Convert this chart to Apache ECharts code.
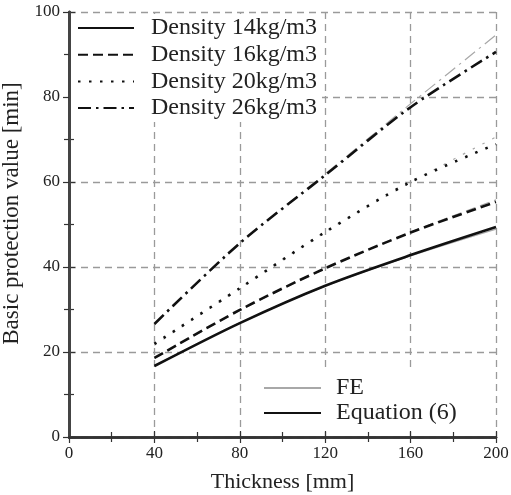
<!DOCTYPE html>
<html lang="en">
<head>
    <meta charset="utf-8">
    <title>Basic protection value vs thickness</title>
    <script src="https://cdn.jsdelivr.net/npm/echarts@6/dist/echarts.min.js"></script>
    <style>
        body { margin: 0; background: #fff; }
        #divChart { width: 511px; height: 495px; }
    </style>
</head>
<body>
<div id="divChart"></div>

<script>
    // thickness [mm]
    var thickness = [40, 80, 120, 160, 200];

    // Equation (6)
    var eq14 = [16.7, 26.8, 35.6, 42.8, 49.4];
    var eq16 = [18.6, 29.9, 39.7, 48.1, 55.3];
    var eq20 = [21.9, 35.0, 48.2, 60.0, 68.9];
    var eq26 = [26.6, 45.6, 61.6, 77.6, 90.6];

    // FE results
    var fe14 = [16.8, 26.9, 35.5, 42.6, 48.9];
    var fe16 = [18.5, 29.8, 39.6, 48.2, 55.8];
    var fe20 = [21.6, 35.0, 48.3, 59.9, 70.6];
    var fe26 = [26.5, 45.5, 61.9, 78.4, 94.6];

    var xTicks = [0, 40, 80, 120, 160, 200];
    var yTicks = [0, 20, 40, 60, 80, 100];

    var densityNames = ['Density 14kg/m3', 'Density 16kg/m3', 'Density 20kg/m3', 'Density 26kg/m3'];

    function pairs(values) {
        var out = [];
        for (var i = 0; i < thickness.length; i++) {
            out.push([thickness[i], values[i]]);
        }
        return out;
    }

    var dashes = ['solid', [10, 5], [2.5, 8.5], [13, 5, 2.5, 5]];
    var eqData = [eq14, eq16, eq20, eq26];
    var feData = [fe14, fe16, fe20, fe26];

    var serif = 'Liberation Serif';
    var series = [];

    // FE lines first so the equation lines sit on top
    for (var i = 0; i < feData.length; i++) {
        series.push({
            name: 'FE',
            type: 'line',
            data: pairs(feData[i]),
            symbol: 'none',
            smooth: 0.3,
            z: 2,
            lineStyle: { color: '#a8a8a8', width: 1.2, type: dashes[i] }
        });
    }
    for (var i = 0; i < eqData.length; i++) {
        series.push({
            name: densityNames[i],
            type: 'line',
            data: pairs(eqData[i]),
            symbol: 'none',
            smooth: 0.3,
            z: 3,
            lineStyle: { color: '#111', width: 2.6, type: dashes[i], cap: 'butt' }
        });
    }
    // legend entry only
    series.push({
        name: 'Equation (6)',
        type: 'line',
        data: [],
        symbol: 'none',
        lineStyle: { color: '#111', width: 2.6, type: 'solid' }
    });

    var tickLook = {
        show: true,
        inside: true,
        length: 6,
        lineStyle: { color: '#333', width: 1.2 }
    };
    var minorLook = {
        show: true,
        splitNumber: 2,
        length: 5,
        lineStyle: { color: '#333', width: 1.2 }
    };

    var myChart = echarts.init(document.getElementById('divChart'));

    var option = {
        animation: false,
        backgroundColor: '#fff',
        grid: { left: 69, right: 15, top: 12, bottom: 58, outerBoundsMode: 'none' },
        legend: [
            {
                data: densityNames,
                orient: 'vertical',
                left: 71,
                top: 14,
                padding: [2, 5, 2, 6],
                backgroundColor: '#fff',
                itemWidth: 56,
                itemHeight: 14,
                itemGap: 2.7,
                selectedMode: false,
                itemStyle: { opacity: 0 },
                textStyle: {
                    fontFamily: serif,
                    fontSize: 24,
                    lineHeight: 24,
                    color: '#222',
                    padding: [0, 0, 0, 12]
                }
            },
            {
                data: ['FE', 'Equation (6)'],
                orient: 'vertical',
                left: 258,
                top: 370,
                padding: [6, 38, 6, 5],
                backgroundColor: '#fff',
                itemWidth: 57,
                itemHeight: 14,
                itemGap: 1,
                selectedMode: false,
                itemStyle: { opacity: 0 },
                textStyle: {
                    fontFamily: serif,
                    fontSize: 24,
                    lineHeight: 24,
                    color: '#222',
                    padding: [0, 0, 0, 10]
                }
            }
        ],
        xAxis: [
            {
                type: 'value',
                position: 'bottom',
                min: xTicks[0],
                max: xTicks[xTicks.length - 1],
                interval: xTicks[1] - xTicks[0],
                name: 'Thickness [mm]',
                nameLocation: 'middle',
                nameGap: 34,
                nameTextStyle: { fontFamily: serif, fontSize: 22, lineHeight: 22, color: '#222' },
                axisLine: { show: true, lineStyle: { color: '#222', width: 2.5 } },
                axisTick: tickLook,
                minorTick: minorLook,
                axisLabel: { fontFamily: serif, fontSize: 17, color: '#222', margin: 8 },
                splitLine: { show: true, lineStyle: { color: '#9a9a9a', width: 1.3, type: [7, 5] } }
            },
            {
                type: 'value',
                position: 'top',
                z: 10,
                min: xTicks[0],
                max: xTicks[xTicks.length - 1],
                interval: xTicks[1] - xTicks[0],
                axisLine: { show: true, lineStyle: { color: '#333', width: 2.5 } },
                axisTick: tickLook,
                minorTick: minorLook,
                axisLabel: { show: false },
                splitLine: { show: false }
            }
        ],
        yAxis: [
            {
                type: 'value',
                position: 'left',
                min: yTicks[0],
                max: yTicks[yTicks.length - 1],
                interval: yTicks[1] - yTicks[0],
                name: 'Basic protection value [min]',
                nameLocation: 'middle',
                nameGap: 46,
                nameTextStyle: { fontFamily: serif, fontSize: 23, lineHeight: 23, color: '#222', padding: [0, 0, 0, 22] },
                axisLine: { show: true, lineStyle: { color: '#222', width: 2.5 } },
                axisTick: tickLook,
                minorTick: minorLook,
                axisLabel: { fontFamily: serif, fontSize: 17, color: '#222', margin: 9 },
                splitLine: { show: true, lineStyle: { color: '#9a9a9a', width: 1.3, type: [7, 5] } }
            },
            {
                type: 'value',
                position: 'right',
                z: 10,
                min: yTicks[0],
                max: yTicks[yTicks.length - 1],
                interval: yTicks[1] - yTicks[0],
                axisLine: { show: true, lineStyle: { color: '#444', width: 3 } },
                axisTick: tickLook,
                minorTick: minorLook,
                axisLabel: { show: false },
                splitLine: { show: false }
            }
        ],
        series: series
    };

    myChart.setOption(option);
</script>
</body>
</html>
